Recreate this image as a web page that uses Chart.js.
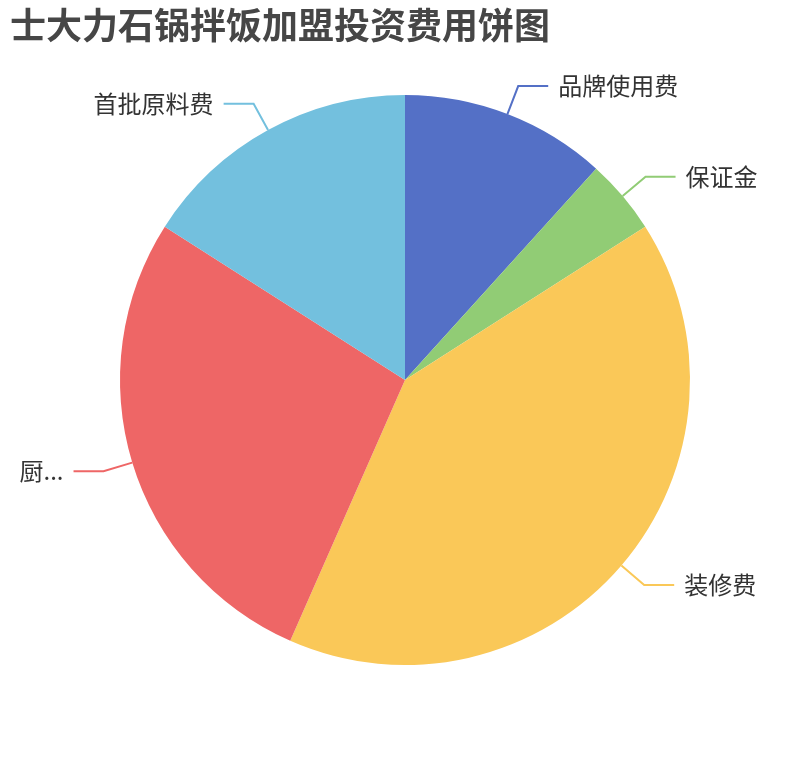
<!DOCTYPE html>
<html>
<head>
<meta charset="utf-8">
<title>士大力石锅拌饭加盟投资费用饼图</title>
<style>
  html, body { margin: 0; padding: 0; background: #fff; }
  #pie { display: block; }
</style>
</head>
<body>
<canvas id="pie" width="810" height="760"></canvas>
<script src="https://cdn.jsdelivr.net/npm/chart.js"></script>
<script>
// 费用项目 (万元)
const labels = ['品牌使用费', '保证金', '装修费', '厨...', '首批原料费'];
const values = [5.5, 2, 19.1, 12.9, 7.5];
const colors = ['#5470c6', '#91cc75', '#fac858', '#ee6666', '#73c0de'];
const TITLE = '士大力石锅拌饭加盟投资费用饼图';
const FONT = '"Noto Sans CJK SC", "Noto Sans", sans-serif';

// draws the title and the outside labels with leader lines
const outsideLabels = {
  id: 'outsideLabels',
  afterDraw(chart) {
    const ctx = chart.ctx;
    ctx.save();

    ctx.fillStyle = '#464646';
    ctx.font = 'bold 36px ' + FONT;
    ctx.textAlign = 'left';
    ctx.textBaseline = 'middle';
    ctx.fillText(TITLE, 10, 25);

    const len1 = 30, len2 = 30, gap = 10;
    ctx.font = '24px ' + FONT;
    chart.getDatasetMeta(0).data.forEach((arc, i) => {
      const mid = (arc.startAngle + arc.endAngle) / 2;
      const dx = Math.cos(mid), dy = Math.sin(mid);
      const x0 = arc.x + dx * arc.outerRadius;
      const y0 = arc.y + dy * arc.outerRadius;
      const x1 = x0 + dx * len1;
      const y1 = y0 + dy * len1;
      const right = dx >= 0;
      const x2 = x1 + (right ? len2 : -len2);

      ctx.strokeStyle = colors[i];
      ctx.lineWidth = 2;
      ctx.beginPath();
      ctx.moveTo(x0, y0);
      ctx.lineTo(x1, y1);
      ctx.lineTo(x2, y1);
      ctx.stroke();

      ctx.fillStyle = '#333';
      ctx.textAlign = right ? 'left' : 'right';
      ctx.fillText(labels[i], x2 + (right ? gap : -gap), y1);
    });
    ctx.restore();
  }
};

new Chart(document.getElementById('pie'), {
  type: 'pie',
  data: {
    labels: labels,
    datasets: [{
      data: values,
      backgroundColor: colors,
      borderWidth: 0
    }]
  },
  options: {
    responsive: false,
    animation: false,
    layout: { padding: { top: 95, bottom: 95, left: 120, right: 120 } },
    plugins: {
      legend: { display: false },
      tooltip: { enabled: false },
      title: { display: false }
    }
  },
  plugins: [outsideLabels]
});
</script>
</body>
</html>
